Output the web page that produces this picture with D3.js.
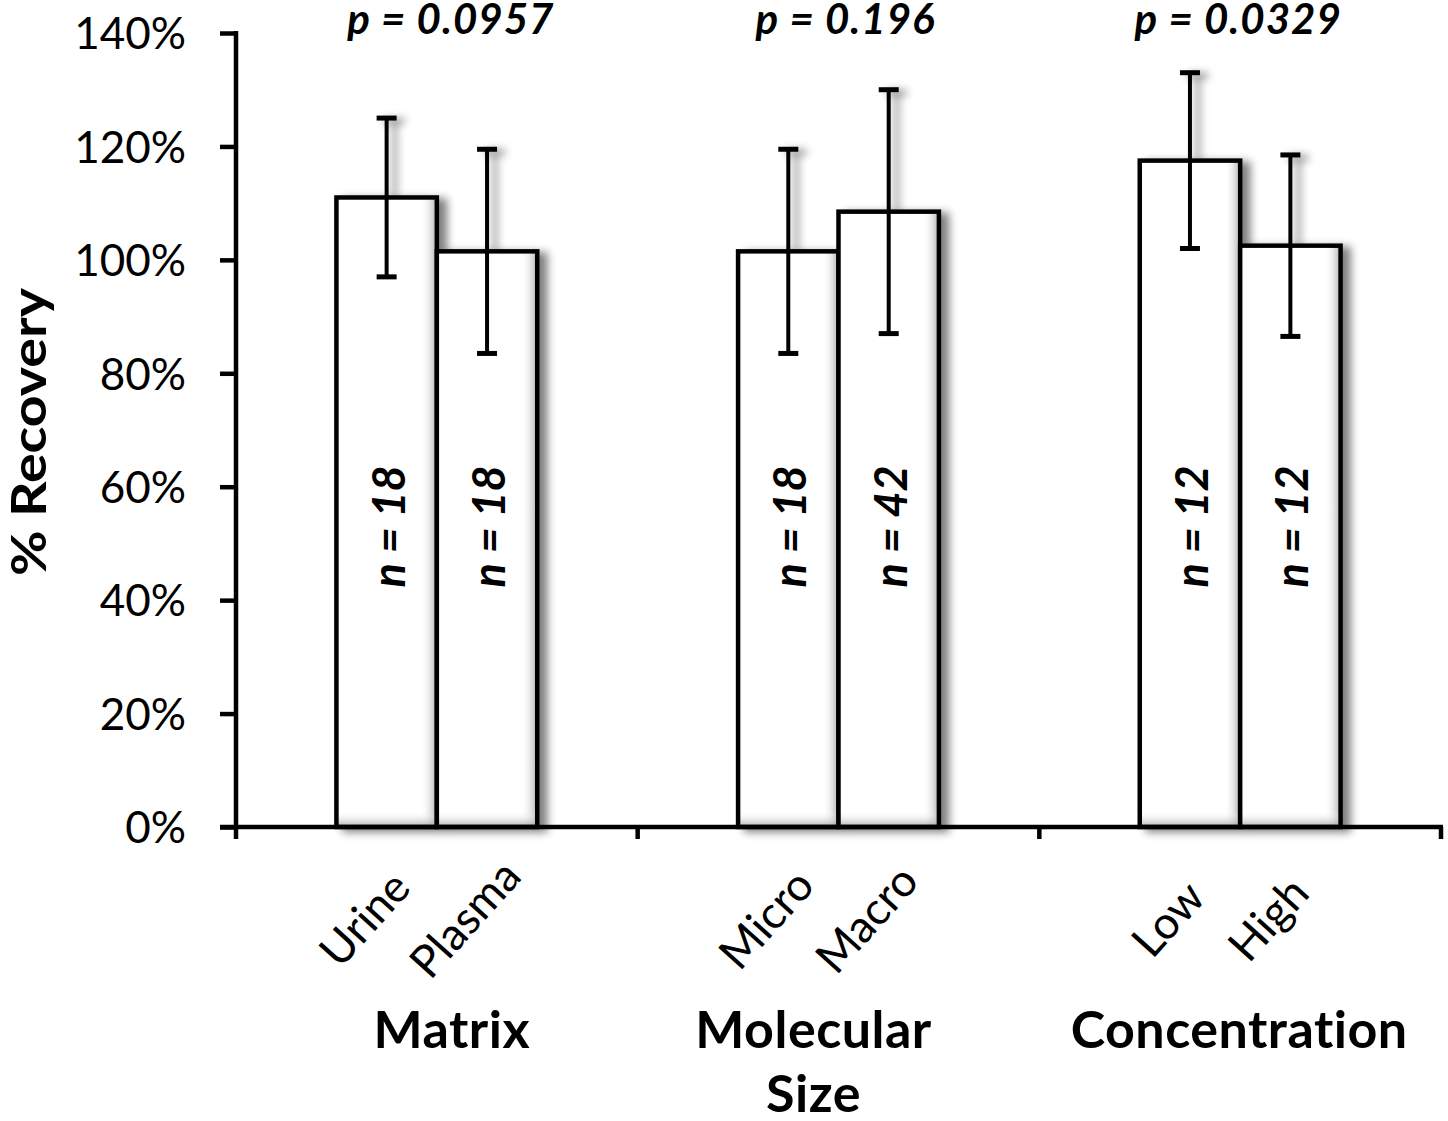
<!DOCTYPE html>
<html><head><meta charset="utf-8">
<script src="https://cdn.jsdelivr.net/npm/d3@7"></script>
<style>body{margin:0;background:#fff}svg{display:block}</style>
</head><body><svg id="c" width="1448" height="1121"></svg>
<script>
const groups = ["Matrix", "Molecular Size", "Concentration"];
const groupLabelLines = [["Matrix"], ["Molecular", "Size"], ["Concentration"]];
const pValues = ["p = 0.0957", "p = 0.196", "p = 0.0329"];
const categories = ["Urine", "Plasma", "Micro", "Macro", "Low", "High"];
const categoryGroup = [0, 0, 1, 1, 2, 2];
const categorySlot = [0, 1, 0, 1, 0, 1];
const recovery = [111, 101.5, 101.5, 108.5, 117.5, 102.5];
const errorHalf = [14, 18, 18, 21.5, 15.5, 16];
const nValues = [18, 18, 18, 42, 12, 12];
const yTicks = [0, 20, 40, 60, 80, 100, 120, 140];

// layout constants (text box offsets relative to group centres)
const groupLabelDx = [15, -25, -1];
const pLabelDx = [14, 7, -2];

const FONT = "Lato, 'Open Sans', sans-serif";
const svg = d3.select("#c");
const defs = svg.append("defs");

const shadow = defs.append("filter").attr("id", "shadow")
  .attr("x", "-20%").attr("y", "-20%").attr("width", "150%").attr("height", "140%");
shadow.append("feGaussianBlur").attr("in", "SourceAlpha").attr("stdDeviation", 4).attr("result", "b");
shadow.append("feOffset").attr("in", "b").attr("dx", 8).attr("dy", 3).attr("result", "o");
shadow.append("feComponentTransfer").attr("in", "o").attr("result", "s")
  .append("feFuncA").attr("type", "linear").attr("slope", 0.5);
const mg = shadow.append("feMerge");
mg.append("feMergeNode").attr("in", "s");
mg.append("feMergeNode").attr("in", "SourceGraphic");

const gr = defs.append("linearGradient").attr("id", "gr").attr("x1", 0).attr("x2", 1).attr("y1", 0).attr("y2", 0);
gr.append("stop").attr("offset", "0%").attr("stop-color", "#fff").attr("stop-opacity", 0);
gr.append("stop").attr("offset", "100%").attr("stop-color", "#9a9a9a").attr("stop-opacity", 0.8);
const gb = defs.append("linearGradient").attr("id", "gb").attr("x1", 0).attr("x2", 0).attr("y1", 0).attr("y2", 1);
gb.append("stop").attr("offset", "0%").attr("stop-color", "#fff").attr("stop-opacity", 0);
gb.append("stop").attr("offset", "100%").attr("stop-color", "#9a9a9a").attr("stop-opacity", 0.8);

const x0 = d3.scaleBand().domain(groups).range([236, 1441]).paddingInner(0).paddingOuter(0);
const x1 = d3.scaleBand().domain([0, 1]).range([0, x0.bandwidth()]).paddingInner(0).paddingOuter(1);
const y = d3.scaleLinear().domain([0, 140]).range([827, 33]);

const bx = i => x0(groups[categoryGroup[i]]) + x1(categorySlot[i]);
const bw = x1.bandwidth();
const cx = i => bx(i) + bw / 2;
const gc = g => x0(g) + x0.bandwidth() / 2;

const data = categories.map((c, i) => ({ c, i, v: recovery[i], e: errorHalf[i], n: nValues[i] }));

// bars
const plot = svg.append("g").attr("filter", "url(#shadow)");
const bars = plot.selectAll("g.bar").data(data).join("g").attr("class", "bar");
bars.append("rect").attr("x", d => bx(d.i)).attr("y", d => y(d.v))
  .attr("width", bw).attr("height", d => y(0) - y(d.v)).attr("fill", "#fff");
bars.append("rect").attr("x", d => bx(d.i) + bw - 16).attr("y", d => y(d.v))
  .attr("width", 16).attr("height", d => y(0) - y(d.v)).attr("fill", "url(#gr)");
bars.append("rect").attr("x", d => bx(d.i)).attr("y", y(0) - 16)
  .attr("width", bw).attr("height", 16).attr("fill", "url(#gb)");
bars.append("rect").attr("x", d => bx(d.i)).attr("y", d => y(d.v))
  .attr("width", bw).attr("height", d => y(0) - y(d.v))
  .attr("fill", "none").attr("stroke", "#000").attr("stroke-width", 4.5);

// error bars
const eb = plot.selectAll("g.err").data(data).join("g").attr("class", "err")
  .attr("stroke", "#000").attr("stroke-width", 4);
eb.append("line").attr("x1", d => cx(d.i)).attr("x2", d => cx(d.i))
  .attr("y1", d => y(d.v + d.e)).attr("y2", d => y(d.v - d.e));
eb.append("line").attr("x1", d => cx(d.i) - 10).attr("x2", d => cx(d.i) + 10)
  .attr("y1", d => y(d.v + d.e)).attr("y2", d => y(d.v + d.e)).attr("stroke-width", 5);
eb.append("line").attr("x1", d => cx(d.i) - 10).attr("x2", d => cx(d.i) + 10)
  .attr("y1", d => y(d.v - d.e)).attr("y2", d => y(d.v - d.e)).attr("stroke-width", 5);

// n labels
svg.selectAll("text.n").data(data).join("text").attr("class", "n")
  .attr("transform", d => `translate(${cx(d.i) + 18},${y(53)}) rotate(-90)`)
  .attr("text-anchor", "middle")
  .attr("font-family", FONT).attr("font-weight", 700).attr("font-style", "italic")
  .attr("font-size", 45).attr("textLength", 122).attr("lengthAdjust", "spacingAndGlyphs")
  .text(d => `n = ${d.n}`);

// y axis
const yAxis = svg.append("g").attr("transform", `translate(236,0)`)
  .call(d3.axisLeft(y).tickValues(yTicks).tickFormat(d => d + "%").tickSize(16).tickSizeOuter(0).tickPadding(34));
yAxis.select(".domain").attr("stroke-width", 4.5).attr("d", `M0,${y(140) - 2}V${y(0) + 2}`);
yAxis.selectAll(".tick line").attr("stroke-width", 4.5);
yAxis.selectAll(".tick text").attr("font-family", FONT).attr("font-size", 44)
  .attr("fill", "#000").attr("dy", "0.36em");

// x axis
const xAxis = svg.append("g").attr("transform", `translate(0,${y(0)})`);
xAxis.append("line").attr("x1", 220).attr("x2", x0.range()[1] + 2).attr("y1", 0).attr("y2", 0)
  .attr("stroke", "#000").attr("stroke-width", 4.5);
const bounds = groups.map(g => x0(g)).concat([x0.range()[1]]);
xAxis.selectAll("line.tk").data(bounds).join("line").attr("class", "tk")
  .attr("x1", d => d).attr("x2", d => d).attr("y1", 0).attr("y2", 12)
  .attr("stroke", "#000").attr("stroke-width", 4.5);

// category labels
svg.selectAll("text.cat").data(data).join("text").attr("class", "cat")
  .attr("transform", d => `translate(${cx(d.i) - 22},${y(0) + 92}) rotate(-48)`)
  .attr("text-anchor", "middle").attr("dy", "0.35em")
  .attr("font-family", FONT).attr("font-size", 45).attr("fill", "#000").text(d => d.c);

// group labels
const gl = svg.selectAll("text.grp").data(groups).join("text").attr("class", "grp")
  .attr("y", 1048).attr("text-anchor", "middle")
  .attr("font-family", FONT).attr("font-weight", 700).attr("font-size", 52)
  .attr("letter-spacing", 0.5).attr("fill", "#000");
gl.each(function (g, gi) {
  d3.select(this).selectAll("tspan").data(groupLabelLines[gi]).join("tspan")
    .attr("x", gc(g) + groupLabelDx[gi]).attr("dy", (d, k) => k === 0 ? 0 : 64).text(d => d);
});

// p values
svg.selectAll("text.p").data(pValues).join("text").attr("class", "p")
  .attr("x", (d, k) => gc(groups[k]) + pLabelDx[k]).attr("y", 34)
  .attr("text-anchor", "middle")
  .attr("font-family", FONT).attr("font-weight", 700).attr("font-style", "italic")
  .attr("font-size", 42).attr("letter-spacing", 1).text(d => d);

// y title
svg.append("text").attr("transform", `translate(46,${y(70) + 2}) rotate(-90)`)
  .attr("text-anchor", "middle").attr("font-family", FONT).attr("font-weight", 700)
  .attr("font-size", 48).attr("textLength", 288).attr("lengthAdjust", "spacingAndGlyphs")
  .text("% Recovery");
</script></body></html>
